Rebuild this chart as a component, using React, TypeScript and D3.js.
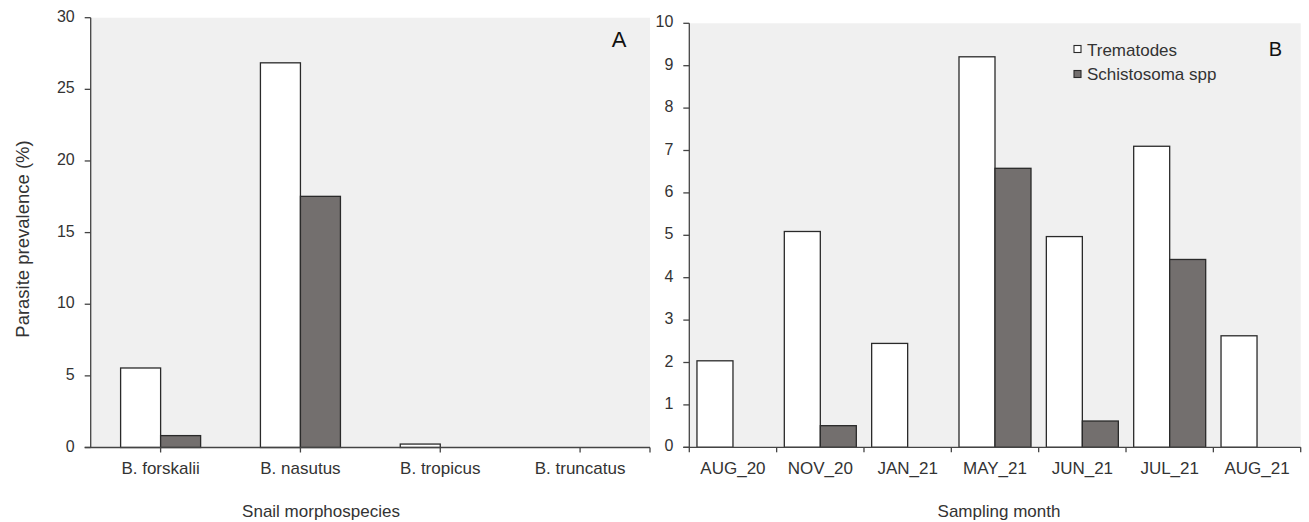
import React from "react";
import * as d3 from "d3";

const speciesCategories = ["B. forskalii", "B. nasutus", "B. tropicus", "B. truncatus"];
const speciesTrematodes = [5.55, 26.85, 0.24, 0];
const speciesSchistosoma = [0.83, 17.53, 0, 0];
const speciesTicks = [0, 5, 10, 15, 20, 25, 30];

const monthCategories = ["AUG_20", "NOV_20", "JAN_21", "MAY_21", "JUN_21", "JUL_21", "AUG_21"];
const monthTrematodes = [2.04, 5.09, 2.45, 9.21, 4.97, 7.1, 2.63];
const monthSchistosoma = [0, 0.51, 0, 6.58, 0.62, 4.43, 0];
const monthTicks = [0, 1, 2, 3, 4, 5, 6, 7, 8, 9, 10];

const seriesNames = ["Trematodes", "Schistosoma spp"];
const seriesColors = ["#ffffff", "#736f6e"];

const FONT = "'Liberation Sans', Arial, sans-serif";
const TEXT = "#333333";
const AXIS = "#444444";
const BG = "#f0f0f0";

type PanelProps = {
  cats: string[];
  s1: number[];
  s2: number[];
  ticks: number[];
  yMax: number;
  x0: number;
  x1: number;
  yTop: number;
  yBottom: number;
  barFrac: number;
  ticksAtCenters: boolean;
  letter: string;
  letterX: number;
  letterY: number;
  letterSize: number;
  xTitle: string;
  xTitleX: number;
};

function Panel(p: PanelProps) {
  const y = d3.scaleLinear().domain([0, p.yMax]).range([p.yBottom, p.yTop]);
  const xb = d3.scaleBand<string>().domain(p.cats).range([p.x0, p.x1]).padding(0);
  const bw = xb.bandwidth();
  const gap = bw * (1 - p.barFrac);
  const xs = d3.scaleBand<string>().domain(seriesNames).range([gap / 2, bw - gap / 2]).padding(0);
  const values = [p.s1, p.s2];

  const xTickPositions: number[] = p.ticksAtCenters
    ? [...p.cats.map((c) => (xb(c) as number) + bw / 2), p.x1]
    : [p.x0, ...p.cats.map((c) => (xb(c) as number) + bw)];

  return (
    <g>
      <rect x={p.x0} y={p.yTop} width={p.x1 - p.x0} height={p.yBottom - p.yTop} fill={BG} />
      {p.cats.map((c, i) =>
        seriesNames.map((s, si) => {
          const v = values[si][i];
          if (!v) return null;
          return (
            <rect
              key={c + s}
              x={(xb(c) as number) + (xs(s) as number)}
              y={y(v)}
              width={xs.bandwidth()}
              height={p.yBottom - y(v)}
              fill={seriesColors[si]}
              stroke="#2a2a2a"
              strokeWidth={1.3}
            />
          );
        })
      )}
      <line x1={p.x0} x2={p.x0} y1={p.yTop} y2={p.yBottom} stroke={AXIS} strokeWidth={1.3} />
      {p.ticks.map((t) => (
        <g key={t}>
          <line x1={p.x0 - 6} x2={p.x0} y1={y(t)} y2={y(t)} stroke={AXIS} strokeWidth={1.3} />
          <text
            x={p.x0 - 16}
            y={y(t)}
            dy="0.25em"
            textAnchor="end"
            fontFamily={FONT}
            fontSize={16}
            fill={TEXT}
          >
            {t}
          </text>
        </g>
      ))}
      <line x1={p.x0 - 6} x2={p.x1} y1={p.yBottom} y2={p.yBottom} stroke={AXIS} strokeWidth={1.3} />
      {xTickPositions.map((xp, i) => (
        <line key={i} x1={xp} x2={xp} y1={p.yBottom} y2={p.yBottom + 5} stroke={AXIS} strokeWidth={1.3} />
      ))}
      {p.cats.map((c) => (
        <text
          key={c}
          x={(xb(c) as number) + bw / 2}
          y={474}
          textAnchor="middle"
          fontFamily={FONT}
          fontSize={17}
          fill={TEXT}
        >
          {c}
        </text>
      ))}
      <text x={p.xTitleX} y={517} textAnchor="middle" fontFamily={FONT} fontSize={17} fill={TEXT}>
        {p.xTitle}
      </text>
      <text
        x={p.letterX}
        y={p.letterY}
        textAnchor="middle"
        fontFamily={FONT}
        fontSize={p.letterSize}
        fill="#111"
      >
        {p.letter}
      </text>
    </g>
  );
}

export default function App() {
  return (
    <svg
      width={1309}
      height={522}
      style={{ position: "absolute", left: 0, top: 0, display: "block", background: "#ffffff" }}
    >
      <rect x={0} y={0} width={1309} height={522} fill="#ffffff" />
      <Panel
        cats={speciesCategories}
        s1={speciesTrematodes}
        s2={speciesSchistosoma}
        ticks={speciesTicks}
        yMax={30}
        x0={90.7}
        x1={650}
        yTop={17.7}
        yBottom={447.5}
        barFrac={80 / 139.8}
        ticksAtCenters={true}
        letter="A"
        letterX={619}
        letterY={46.7}
        letterSize={22}
        xTitle="Snail morphospecies"
        xTitleX={321}
      />
      <Panel
        cats={monthCategories}
        s1={monthTrematodes}
        s2={monthSchistosoma}
        ticks={monthTicks}
        yMax={10}
        x0={689.3}
        x1={1300.7}
        yTop={23.3}
        yBottom={447.3}
        barFrac={72 / 87.34}
        ticksAtCenters={false}
        letter="B"
        letterX={1275.5}
        letterY={56}
        letterSize={20}
        xTitle="Sampling month"
        xTitleX={999}
      />
      <text
        transform="translate(28.5,239) rotate(-90)"
        textAnchor="middle"
        fontFamily={FONT}
        fontSize={18.5}
        fill={TEXT}
      >
        Parasite prevalence (%)
      </text>
      {seriesNames.map((s, i) => (
        <g key={s}>
          <rect
            x={1074}
            y={45.5 + i * 25}
            width={7}
            height={7}
            fill={seriesColors[i]}
            stroke="#2a2a2a"
            strokeWidth={1.1}
          />
          <text x={1087} y={55.7 + i * 24.5} fontFamily={FONT} fontSize={17} fill={TEXT}>
            {s}
          </text>
        </g>
      ))}
    </svg>
  );
}
